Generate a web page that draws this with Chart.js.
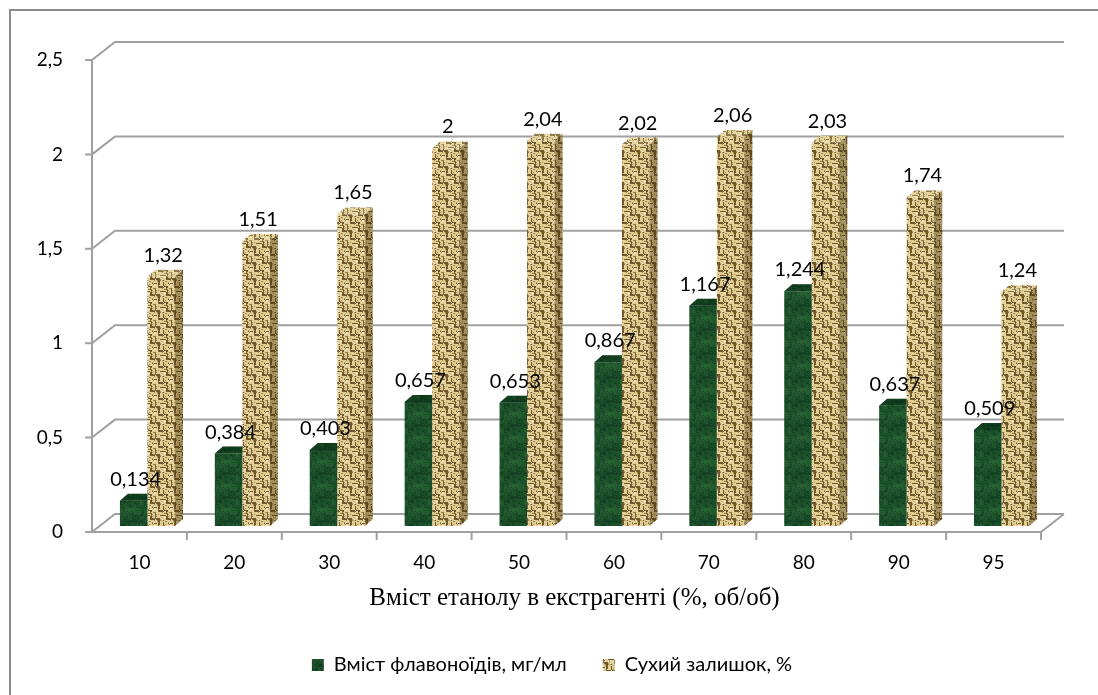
<!DOCTYPE html>
<html>
<head>
<meta charset="utf-8">
<script src="https://cdn.jsdelivr.net/npm/chart.js@4.4.1/dist/chart.umd.min.js"></script>
<style>
  html, body { margin: 0; padding: 0; background: #fff; }
  #wrap { width: 1098px; height: 695px; position: relative; }
</style>
</head>
<body>
<div id="wrap"><canvas id="chart"></canvas></div>
<script>
const categories = ['10', '20', '30', '40', '50', '60', '70', '80', '90', '95'];
const flavonoids = [0.134, 0.384, 0.403, 0.657, 0.653, 0.867, 1.167, 1.244, 0.637, 0.509];
const dryResidue = [1.32, 1.51, 1.65, 2, 2.04, 2.02, 2.06, 2.03, 1.74, 1.24];
const yTicks = [0, 0.5, 1, 1.5, 2, 2.5];
const seriesNames = ['Вміст флавоноїдів, мг/мл', 'Сухий залишок, %'];
const xTitle = 'Вміст етанолу в екстрагенті (%, об/об)';

const fmt = v => String(v).replace('.', ',');

// depth offsets for the fake 3d look
const DX = 8, DY = 7;
const FRONT = 6, BACK = 12, AX = 8, BX = 15;

// simple hash noise so the texture is the same on every run
function hash(x, y) {
  let h = (x * 374761393 + y * 668265263) | 0;
  h = (h ^ (h >>> 13)) * 1274126177 | 0;
  return ((h ^ (h >>> 16)) >>> 0) / 4294967295;
}

function greenPattern(ctx) {
  const c = document.createElement('canvas');
  c.width = 24; c.height = 24;
  const g = c.getContext('2d');
  for (let y = 0; y < 24; y++) {
    for (let x = 0; x < 24; x++) {
      const n = hash(x, y) * 0.35 + hash(x >> 2, y >> 2) * 0.35 + hash((x + 2) >> 3, (y + 5) >> 2) * 0.3;
      const r = Math.round(12 + n * 35);
      const gr = Math.round(55 + n * 55);
      const b = Math.round(28 + n * 30);
      g.fillStyle = `rgb(${r},${gr},${b})`;
      g.fillRect(x, y, 1, 1);
    }
  }
  return ctx.createPattern(c, 'repeat');
}

function tanPattern(ctx) {
  const c = document.createElement('canvas');
  c.width = 16; c.height = 16;
  const g = c.getContext('2d');
  g.fillStyle = '#e2cd92';
  g.fillRect(0, 0, 16, 16);
  g.fillStyle = '#735a2a';
  // basket weave: horizontal pairs and vertical pairs
  for (let i = 0; i < 2; i++) {
    for (let j = 0; j < 2; j++) {
      const ox = i * 8, oy = j * 8;
      if ((i + j) % 2 === 0) {
        g.fillRect(ox, oy + 3, 8, 1);
        g.fillRect(ox + 6, oy, 2, 8);
      } else {
        g.fillRect(ox + 3, oy, 1, 8);
        g.fillRect(ox, oy + 6, 8, 2);
      }
    }
  }
  g.fillStyle = 'rgba(255,248,215,0.8)';
  for (let y = 0; y < 16; y++) {
    for (let x = 0; x < 16; x++) {
      if (hash(x + 7, y + 3) > 0.88) g.fillRect(x, y, 1, 1);
    }
  }
  g.fillStyle = 'rgba(90,65,25,0.5)';
  for (let y = 0; y < 16; y++) {
    for (let x = 0; x < 16; x++) {
      if (hash(x + 21, y + 11) > 0.86) g.fillRect(x, y, 1, 1);
    }
  }
  return ctx.createPattern(c, 'repeat');
}

const canvas = document.getElementById('chart');
const ctx0 = canvas.getContext('2d');
const greenFill = greenPattern(ctx0);
const tanFill = tanPattern(ctx0);

const framePlugin = {
  id: 'frame',
  beforeDraw(chart) {
    const ctx = chart.ctx;
    ctx.save();
    ctx.strokeStyle = '#8c8c8c';
    ctx.lineWidth = 2;
    ctx.strokeRect(10, 10, 1200, 800);
    ctx.restore();
  },
  beforeDatasetsDraw(chart) {
    const { ctx, chartArea, scales } = chart;
    const y = scales.y;
    const fl = chartArea.left - AX, fr = chartArea.right - AX;
    const bl = fl + BX + AX, br = fr + BX + AX;
    ctx.save();
    ctx.strokeStyle = '#a0a0a0';
    ctx.lineWidth = 2;
    ctx.beginPath();
    yTicks.forEach(v => {
      const p = y.getPixelForValue(v);
      ctx.moveTo(fl - 7, p + FRONT);
      ctx.lineTo(fl, p + FRONT);
      ctx.lineTo(bl, p - BACK);
      ctx.lineTo(br, p - BACK);
    });
    const top = y.getPixelForValue(yTicks[yTicks.length - 1]);
    const zero = y.getPixelForValue(0);
    ctx.moveTo(fl, top + FRONT);
    ctx.lineTo(fl, zero + FRONT);
    ctx.lineTo(fr, zero + FRONT);
    ctx.lineTo(br, zero - BACK);
    const step = (fr - fl) / categories.length;
    for (let i = 1; i <= categories.length; i++) {
      ctx.moveTo(fl + i * step, zero + FRONT);
      ctx.lineTo(fl + i * step, zero + FRONT + 8);
    }
    ctx.stroke();
    ctx.restore();
  },
  afterDatasetsDraw(chart) {
    const ctx = chart.ctx;
    ctx.save();
    chart.data.datasets.forEach((ds, di) => {
      chart.getDatasetMeta(di).data.forEach(bar => {
        const L = bar.x - bar.width / 2, R = bar.x + bar.width / 2;
        const T = bar.y, B = bar.base;
        // top face
        ctx.beginPath();
        ctx.moveTo(L, T);
        ctx.lineTo(L + DX, T - DY);
        ctx.lineTo(di === 0 ? R : R + DX, T - DY);
        ctx.lineTo(R, T);
        ctx.closePath();
        ctx.fillStyle = ds.backgroundColor;
        ctx.fill();
        ctx.fillStyle = di === 0 ? 'rgba(0,30,10,0.3)' : 'rgba(255,245,210,0.2)';
        ctx.fill();
        if (di === 1) {
          // side face
          ctx.beginPath();
          ctx.moveTo(R, T);
          ctx.lineTo(R + DX, T - DY);
          ctx.lineTo(R + DX, B - DY);
          ctx.lineTo(R, B);
          ctx.closePath();
          ctx.fillStyle = ds.backgroundColor;
          ctx.fill();
          ctx.fillStyle = 'rgba(70,50,10,0.4)';
          ctx.fill();
        }
      });
    });
    // value labels
    ctx.fillStyle = '#000';
    ctx.font = '20px Lato';
    ctx.textAlign = 'center';
    ctx.textBaseline = 'alphabetic';
    chart.data.datasets.forEach((ds, di) => {
      chart.getDatasetMeta(di).data.forEach((bar, i) => {
        ctx.fillText(fmt(ds.data[i]), bar.x + 2, bar.y - 15);
      });
    });
    ctx.restore();
  }
};

new Chart(canvas, {
  type: 'bar',
  data: {
    labels: categories,
    datasets: [
      { label: seriesNames[0], data: flavonoids, backgroundColor: greenFill, borderWidth: 0 },
      { label: seriesNames[1], data: dryResidue, backgroundColor: tanFill, borderWidth: 0 }
    ]
  },
  options: {
    responsive: true,
    maintainAspectRatio: false,
    animation: false,
    datasets: { bar: { categoryPercentage: 0.58, barPercentage: 1 } },
    layout: { padding: { left: 6, right: 0, top: 54, bottom: 10 } },
    plugins: {
      tooltip: { enabled: false },
      legend: {
        position: 'bottom',
        labels: {
          boxWidth: 12, boxHeight: 12, padding: 36,
          color: '#000', font: { family: 'Lato', size: 20 }
        }
      }
    },
    scales: {
      x: {
        grid: { display: false },
        border: { display: false },
        ticks: { color: '#000', font: { family: 'Lato', size: 19 }, padding: 17, labelOffset: -8 },
        title: { display: true, text: xTitle, color: '#000', font: { family: 'Liberation Serif', size: 25 }, padding: { top: 4, bottom: 6 } },
        afterFit: s => { s.height = 93; }
      },
      y: {
        min: 0, max: 2.5,
        grid: { display: false },
        border: { display: false },
        ticks: { stepSize: 0.5, color: '#000', font: { family: 'Lato', size: 19 }, padding: 29, labelOffset: 6, callback: v => fmt(v) },
        afterFit: s => { s.width = 94; }
      },
      // empty right margin axis, only reserves room
      spacer: {
        position: 'right',
        grid: { display: false },
        border: { display: false },
        ticks: { display: false },
        afterFit: s => { s.width = 49; }
      }
    }
  },
  plugins: [framePlugin]
});
</script>
</body>
</html>
